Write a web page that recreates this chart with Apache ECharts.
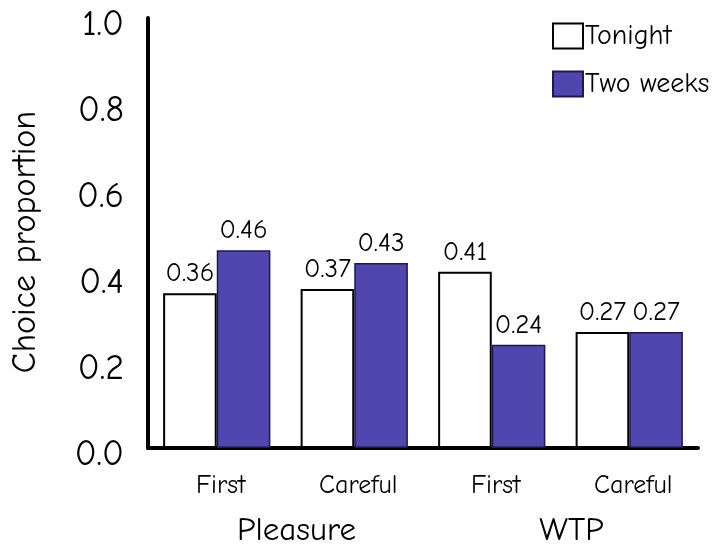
<!DOCTYPE html>
<html>
<head>
<meta charset="utf-8">
<script src="https://cdn.jsdelivr.net/npm/echarts@6/dist/echarts.min.js"></script>
<style>
  html, body { margin: 0; padding: 0; background: #fff; }
  #chart { width: 713px; height: 550px; }
</style>
</head>
<body>
<div id="chart"></div>
<script>
// Choice proportion by elicitation condition and timing
const categories = ['First', 'Careful', 'First', 'Careful'];
const groups = ['Pleasure', 'WTP'];
const tonight = [0.36, 0.37, 0.41, 0.27];
const twoWeeks = [0.46, 0.43, 0.24, 0.27];

const FONT = "'Comic Sans MS', 'Comic Neue', 'Noto Sans', sans-serif";
const PURPLE = '#5046ae';

const chart = echarts.init(document.getElementById('chart'), null, { renderer: 'canvas' });

const valueLabel = {
  show: true,
  position: 'top',
  distance: 6,
  fontFamily: FONT,
  fontSize: 27,
  color: '#000',
  formatter: p => p.value.toFixed(2)
};

chart.setOption({
  animation: false,
  backgroundColor: '#fff',
  textStyle: { fontFamily: FONT },
  grid: { left: 145, right: 15, top: 18, bottom: 102, containLabel: false },
  legend: {
    orient: 'vertical',
    left: 552,
    top: 22,
    padding: 0,
    itemWidth: 30,
    itemHeight: 25,
    itemGap: 20,
    icon: 'rect',
    textStyle: { fontFamily: FONT, fontSize: 28, color: '#000', padding: [0, 0, 0, -3] },
    data: ['Tonight', 'Two weeks']
  },
  xAxis: [
    {
      type: 'category',
      data: categories,
      position: 'bottom',
      axisLine: { show: true, onZero: false, lineStyle: { color: '#000', width: 4 } },
      axisTick: { show: false },
      axisLabel: { fontFamily: FONT, fontSize: 26, color: '#000', margin: 25, padding: [0, 0, 0, 8] }
    },
    {
      type: 'category',
      data: groups,
      position: 'bottom',
      offset: 0,
      axisLine: { show: false },
      axisTick: { show: false },
      axisLabel: { fontFamily: FONT, fontSize: 33, color: '#000', margin: 66, padding: [0, 0, 0, 22] }
    }
  ],
  yAxis: {
    type: 'value',
    min: 0,
    max: 1.0,
    interval: 0.2,
    name: 'Choice proportion',
    nameLocation: 'middle',
    nameGap: 106,
    nameRotate: 90,
    nameTextStyle: { fontFamily: FONT, fontSize: 34, color: '#000', padding: [0, 18, 0, 0] },
    axisLine: { show: true, lineStyle: { color: '#000', width: 4 } },
    axisTick: { show: false },
    splitLine: { show: false },
    axisLabel: {
      fontFamily: FONT,
      fontSize: 36,
      color: '#000',
      margin: 24,
      verticalAlign: 'top',
      lineHeight: 13,
      formatter: v => v.toFixed(1)
    }
  },
  series: [
    {
      name: 'Tonight',
      type: 'bar',
      xAxisIndex: 0,
      data: tonight,
      barGap: '0%',
      barCategoryGap: '22%',
      itemStyle: { color: '#fff', borderColor: '#000', borderWidth: 2 },
      label: valueLabel
    },
    {
      name: 'Two weeks',
      type: 'bar',
      xAxisIndex: 0,
      data: twoWeeks,
      barGap: '0%',
      barCategoryGap: '22%',
      itemStyle: { color: PURPLE, borderColor: '#1c1850', borderWidth: 1.5 },
      label: valueLabel
    }
  ]
});
</script>
</body>
</html>
